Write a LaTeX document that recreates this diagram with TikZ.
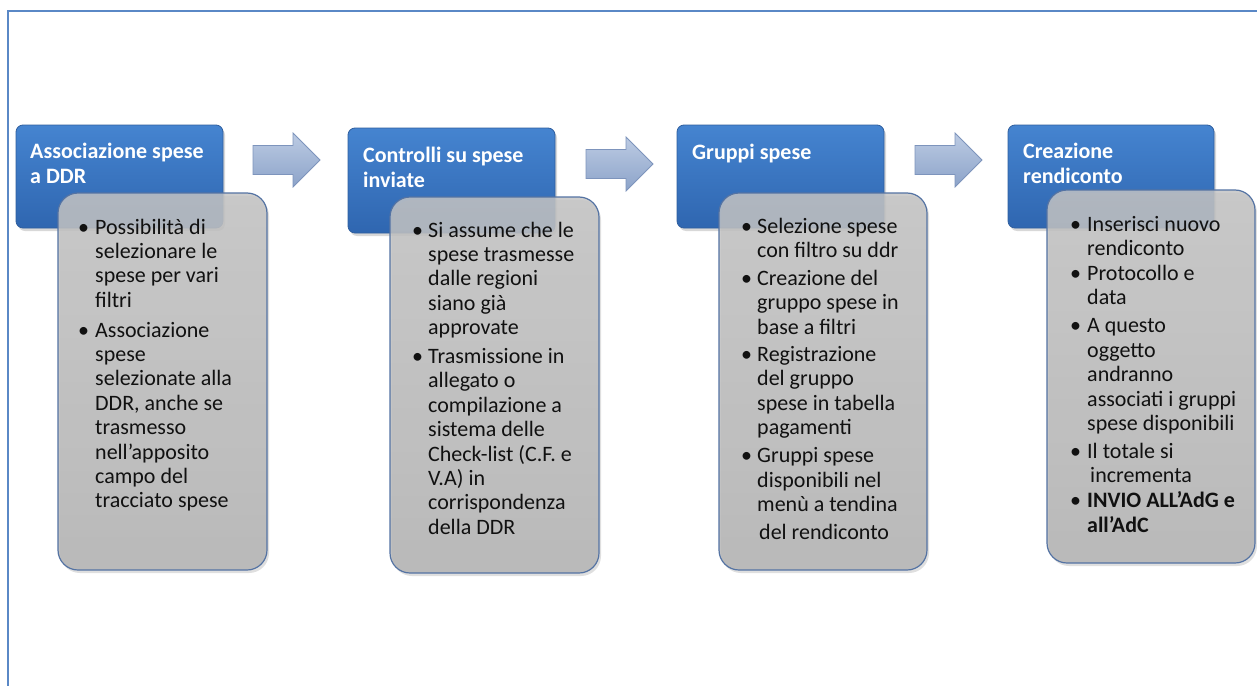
\documentclass[tikz,border=0pt]{standalone}
\usepackage{fontspec}
\setmainfont{Carlito}
\usetikzlibrary{shadows}
\definecolor{frameblue}{HTML}{5A88C6}
\definecolor{bluetop}{HTML}{4584D0}
\definecolor{bluebot}{HTML}{2F66B0}
\definecolor{boxedge}{HTML}{2F5E9E}
\definecolor{greytop}{HTML}{C4C4C4}
\definecolor{greybot}{HTML}{B3B3B3}
\definecolor{greyedge}{HTML}{5473A3}
\definecolor{arrowtop}{HTML}{BCCBE3}
\definecolor{arrowbot}{HTML}{8CA3C9}
\definecolor{arrowedge}{HTML}{7D94BC}
\definecolor{textcol}{HTML}{111111}
\newcommand{\bul}[1]{\makebox[#1][l]{\textbullet}}
\begin{document}
\begin{tikzpicture}[x=1pt,y=-1pt,
  bluebox/.style={rounded corners=7pt, draw=boxedge, line width=0.8pt, top color=bluetop, bottom color=bluebot, inner sep=0pt,
    drop shadow={opacity=0.3, shadow xshift=2pt, shadow yshift=-3pt}},
  greybox/.style={rounded corners=20pt, draw=greyedge, line width=1.2pt, top color=greytop, bottom color=greybot, fill opacity=0.84, inner sep=0pt,
    drop shadow={opacity=0.25, shadow xshift=2pt, shadow yshift=-3pt}},
  titletext/.style={anchor=base west, inner sep=0pt, text=white, font=\fontsize{22}{25}\selectfont\bfseries},
  bodytext/.style={anchor=base west, inner sep=0pt, text=textcol, font=\fontsize{22}{24.4}\selectfont},
  blockarrow/.style={draw=arrowedge, line width=0.8pt, top color=arrowtop, bottom color=arrowbot}]
\useasboundingbox (0,0) rectangle (1257,685);
\fill[white] (0,0) rectangle (1257,685);
% frame
\draw[frameblue, line width=2pt] (8,700) -- (8,11) -- (1270,11);

% block arrows
\newcommand{\blockarr}[2]{%
  \path[blockarrow] (#1,#2-14.5) -- (#1+40,#2-14.5) -- (#1+40,#2-27) -- (#1+67,#2) -- (#1+40,#2+27) -- (#1+40,#2+14.5) -- (#1,#2+14.5) -- cycle;}
\blockarr{253}{160}
\blockarr{586}{164}
\blockarr{915}{160}

% block 1
\node[bluebox, minimum width=207pt, minimum height=103pt] (b1) at (119.5,176.5) {};
\node[greybox, minimum width=209pt, minimum height=377pt] (g1) at (162.5,381.5) {};
\node[titletext] (t1) at (30,158) {\begin{tabular}[t]{@{}l@{}}Associazione spese\\a DDR\end{tabular}};
\node[bodytext] (x1) at (78,234) {\begin{tabular}[t]{@{}l@{}l@{}}
\bul{17pt} & Possibilità di\\
 & selezionare le\\
 & spese per vari\\
 & filtri\\[5.5pt]
\bul{17pt} & Associazione\\
 & spese\\
 & selezionate alla\\
 & DDR, anche se\\
 & trasmesso\\
 & nell’apposito\\
 & campo del\\
 & tracciato spese
\end{tabular}};

% block 2
\node[bluebox, minimum width=207pt, minimum height=105pt] (b2) at (451.5,180.5) {};
\node[greybox, minimum width=209pt, minimum height=376pt] (g2) at (494.5,385) {};
\node[titletext] (t2) at (363,162) {\begin{tabular}[t]{@{}l@{}}Controlli su spese\\inviate\end{tabular}};
\node[bodytext] (x2) at (412,237) {\begin{tabular}[t]{@{}l@{}l@{}}
\bul{16pt} & Si assume che le\\
 & spese trasmesse\\
 & dalle regioni\\
 & siano già\\
 & approvate\\[4.5pt]
\bul{16pt} & Trasmissione in\\
 & allegato o\\
 & compilazione a\\
 & sistema delle\\
 & Check-list (C.F. e\\
 & V.A) in\\
 & corrispondenza\\
 & della DDR
\end{tabular}};

% block 3
\node[bluebox, minimum width=207pt, minimum height=103pt] (b3) at (780.5,176.5) {};
\node[greybox, minimum width=208pt, minimum height=377pt] (g3) at (823,381.5) {};
\node[titletext] (t3) at (692,159) {Gruppi spese};
\node[bodytext] (x3) at (741,233) {\begin{tabular}[t]{@{}l@{}l@{}}
\bul{16pt} & Selezione spese\\
 & con filtro su ddr\\[3.5pt]
\bul{16pt} & Creazione del\\
 & gruppo spese in\\
 & base a filtri\\[3pt]
\bul{16pt} & Registrazione\\
 & del gruppo\\
 & spese in tabella\\
 & pagamenti\\[3.5pt]
\bul{16pt} & Gruppi spese\\
 & disponibili nel\\
 & menù a tendina\\[3.5pt]
 & \hspace{2pt}del rendiconto
\end{tabular}};

% block 4
\node[bluebox, minimum width=206pt, minimum height=103pt] (b4) at (1111,176.5) {};
\node[greybox, minimum width=208pt, minimum height=373pt] (g4) at (1151,376.5) {};
\node[titletext] (t4) at (1023,158) {\begin{tabular}[t]{@{}l@{}}Creazione\\rendiconto\end{tabular}};
\node[bodytext] (x4) at (1070,231) {\begin{tabular}[t]{@{}l@{}l@{}}
\bul{17pt} & Inserisci nuovo\\
 & rendiconto\\[0.6pt]
\bul{17pt} & Protocollo e\\
 & data\\[3.6pt]
\bul{17pt} & A questo\\
 & oggetto\\
 & andranno\\
 & associati i gruppi\\
 & spese disponibili\\[3.6pt]
\bul{17pt} & Il totale si\\
 & \hspace{3pt}incrementa\\[0.6pt]
\bul{17pt} & \textbf{INVIO ALL’AdG e}\\
 & \textbf{all’AdC}
\end{tabular}};
\end{tikzpicture}
\end{document}
